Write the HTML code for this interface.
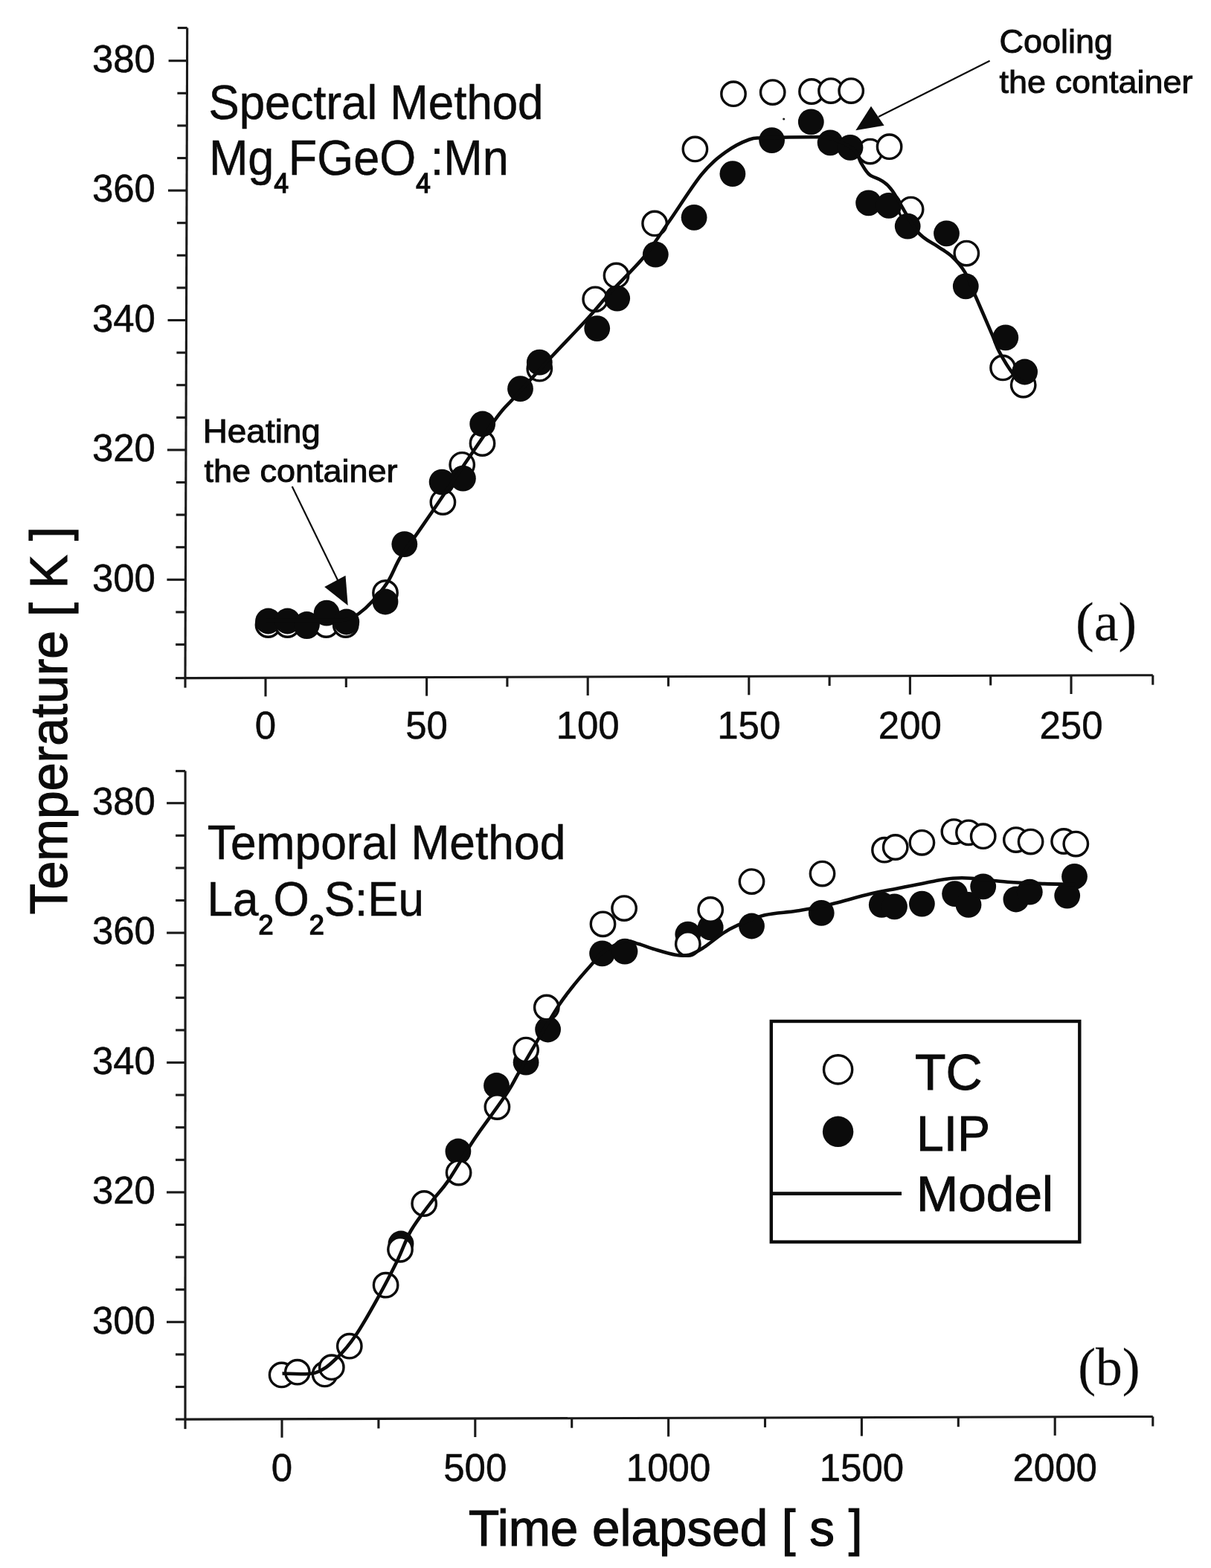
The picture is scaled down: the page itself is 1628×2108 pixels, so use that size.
<!DOCTYPE html>
<html><head><meta charset="utf-8"><title>Temperature vs time</title>
<style>html,body{margin:0;padding:0;background:#fff;}svg{display:block;}text{font-family:"Liberation Sans",Arial,Helvetica,sans-serif;fill:#0b0b0b;stroke:#0b0b0b;stroke-width:0.5px;}.tk{stroke-width:0.9px}.ann{stroke-width:1.0px}.ax{stroke-width:1.2px}.leg{stroke-width:0.9px}.sb{stroke-width:1.5px}.serif{font-family:"Liberation Serif","Times New Roman",serif;stroke-width:0.2px}</style></head><body>
<svg width="1628" height="2108" viewBox="0 0 1628 2108">
<rect width="1628" height="2108" fill="#fff"/>
<g stroke="#1a1a1a" stroke-width="3.1" stroke-linecap="butt" fill="none">
<line x1="251.7" y1="37.5" x2="249.0" y2="911.6"/>
<line x1="249.0" y1="911.6" x2="1549.8" y2="907.7"/>
<line x1="236.0" y1="911.6" x2="249.0" y2="911.6"/>
<line x1="236.1" y1="866.5" x2="249.1" y2="866.5"/>
<line x1="236.3" y1="822.9" x2="249.3" y2="822.9"/>
<line x1="224.4" y1="779.3" x2="249.4" y2="779.3"/>
<line x1="236.5" y1="735.7" x2="249.5" y2="735.7"/>
<line x1="236.7" y1="692.1" x2="249.7" y2="692.1"/>
<line x1="236.8" y1="648.5" x2="249.8" y2="648.5"/>
<line x1="224.9" y1="604.9" x2="249.9" y2="604.9"/>
<line x1="237.1" y1="561.3" x2="250.1" y2="561.3"/>
<line x1="237.2" y1="517.7" x2="250.2" y2="517.7"/>
<line x1="237.4" y1="474.1" x2="250.4" y2="474.1"/>
<line x1="225.5" y1="430.5" x2="250.5" y2="430.5"/>
<line x1="237.6" y1="386.9" x2="250.6" y2="386.9"/>
<line x1="237.8" y1="343.3" x2="250.8" y2="343.3"/>
<line x1="237.9" y1="299.7" x2="250.9" y2="299.7"/>
<line x1="226.0" y1="256.1" x2="251.0" y2="256.1"/>
<line x1="238.2" y1="212.5" x2="251.2" y2="212.5"/>
<line x1="238.3" y1="168.9" x2="251.3" y2="168.9"/>
<line x1="238.4" y1="125.3" x2="251.4" y2="125.3"/>
<line x1="226.6" y1="81.7" x2="251.6" y2="81.7"/>
<line x1="238.7" y1="37.5" x2="251.7" y2="37.5"/>
<line x1="249.0" y1="911.6" x2="249.0" y2="924.6"/>
<line x1="357.0" y1="911.3" x2="357.0" y2="936.3"/>
<line x1="465.3" y1="911.0" x2="465.3" y2="924.0"/>
<line x1="573.6" y1="910.6" x2="573.6" y2="935.6"/>
<line x1="681.9" y1="910.3" x2="681.9" y2="923.3"/>
<line x1="790.2" y1="910.0" x2="790.2" y2="935.0"/>
<line x1="898.5" y1="909.7" x2="898.5" y2="922.7"/>
<line x1="1006.8" y1="909.3" x2="1006.8" y2="934.3"/>
<line x1="1115.1" y1="909.0" x2="1115.1" y2="922.0"/>
<line x1="1223.4" y1="908.7" x2="1223.4" y2="933.7"/>
<line x1="1331.7" y1="908.4" x2="1331.7" y2="921.4"/>
<line x1="1440.0" y1="908.0" x2="1440.0" y2="933.0"/>
<line x1="1549.8" y1="907.7" x2="1549.8" y2="920.7"/>
<line x1="249.1" y1="1036.6" x2="249.0" y2="1908.1"/>
<line x1="249.0" y1="1908.1" x2="1549.8" y2="1904.5"/>
<line x1="236.0" y1="1908.1" x2="249.0" y2="1908.1"/>
<line x1="236.0" y1="1864.5" x2="249.0" y2="1864.5"/>
<line x1="236.0" y1="1820.9" x2="249.0" y2="1820.9"/>
<line x1="224.0" y1="1777.3" x2="249.0" y2="1777.3"/>
<line x1="236.0" y1="1733.7" x2="249.0" y2="1733.7"/>
<line x1="236.0" y1="1690.1" x2="249.0" y2="1690.1"/>
<line x1="236.0" y1="1646.5" x2="249.0" y2="1646.5"/>
<line x1="224.0" y1="1602.9" x2="249.0" y2="1602.9"/>
<line x1="236.0" y1="1559.3" x2="249.0" y2="1559.3"/>
<line x1="236.0" y1="1515.7" x2="249.0" y2="1515.7"/>
<line x1="236.1" y1="1472.1" x2="249.1" y2="1472.1"/>
<line x1="224.1" y1="1428.5" x2="249.1" y2="1428.5"/>
<line x1="236.1" y1="1384.9" x2="249.1" y2="1384.9"/>
<line x1="236.1" y1="1341.3" x2="249.1" y2="1341.3"/>
<line x1="236.1" y1="1297.7" x2="249.1" y2="1297.7"/>
<line x1="224.1" y1="1254.1" x2="249.1" y2="1254.1"/>
<line x1="236.1" y1="1210.5" x2="249.1" y2="1210.5"/>
<line x1="236.1" y1="1166.9" x2="249.1" y2="1166.9"/>
<line x1="236.1" y1="1123.3" x2="249.1" y2="1123.3"/>
<line x1="224.1" y1="1079.7" x2="249.1" y2="1079.7"/>
<line x1="236.1" y1="1036.6" x2="249.1" y2="1036.6"/>
<line x1="249.0" y1="1908.1" x2="249.0" y2="1921.1"/>
<line x1="379.0" y1="1907.7" x2="379.0" y2="1932.7"/>
<line x1="508.9" y1="1907.4" x2="508.9" y2="1920.4"/>
<line x1="638.8" y1="1907.0" x2="638.8" y2="1932.0"/>
<line x1="768.7" y1="1906.7" x2="768.7" y2="1919.7"/>
<line x1="898.6" y1="1906.3" x2="898.6" y2="1931.3"/>
<line x1="1028.5" y1="1905.9" x2="1028.5" y2="1918.9"/>
<line x1="1158.4" y1="1905.6" x2="1158.4" y2="1930.6"/>
<line x1="1288.3" y1="1905.2" x2="1288.3" y2="1918.2"/>
<line x1="1418.2" y1="1904.9" x2="1418.2" y2="1929.9"/>
<line x1="1549.8" y1="1904.5" x2="1549.8" y2="1917.5"/>
</g>
<g font-size="51" class="tk">
<text x="209" y="794.6" transform="matrix(1 0 0 1.02 0 -15.89)" text-anchor="end">300</text>
<text x="209" y="1792.6" transform="matrix(1 0 0 1.02 0 -35.85)" text-anchor="end">300</text>
<text x="209" y="620.2" transform="matrix(1 0 0 1.02 0 -12.40)" text-anchor="end">320</text>
<text x="209" y="1618.2" transform="matrix(1 0 0 1.02 0 -32.36)" text-anchor="end">320</text>
<text x="209" y="445.8" transform="matrix(1 0 0 1.02 0 -8.92)" text-anchor="end">340</text>
<text x="209" y="1443.8" transform="matrix(1 0 0 1.02 0 -28.88)" text-anchor="end">340</text>
<text x="209" y="271.4" transform="matrix(1 0 0 1.02 0 -5.43)" text-anchor="end">360</text>
<text x="209" y="1269.4" transform="matrix(1 0 0 1.02 0 -25.39)" text-anchor="end">360</text>
<text x="209" y="97.0" transform="matrix(1 0 0 1.02 0 -1.94)" text-anchor="end">380</text>
<text x="209" y="1095.0" transform="matrix(1 0 0 1.02 0 -21.90)" text-anchor="end">380</text>
<text x="357.0" y="993" transform="matrix(1 0 0 1.02 0 -19.86)" text-anchor="middle">0</text>
<text x="573.6" y="993" transform="matrix(1 0 0 1.02 0 -19.86)" text-anchor="middle">50</text>
<text x="790.2" y="993" transform="matrix(1 0 0 1.02 0 -19.86)" text-anchor="middle">100</text>
<text x="1006.8" y="993" transform="matrix(1 0 0 1.02 0 -19.86)" text-anchor="middle">150</text>
<text x="1223.4" y="993" transform="matrix(1 0 0 1.02 0 -19.86)" text-anchor="middle">200</text>
<text x="1440.0" y="993" transform="matrix(1 0 0 1.02 0 -19.86)" text-anchor="middle">250</text>
<text x="379.0" y="1991" transform="matrix(1 0 0 1.02 0 -39.82)" text-anchor="middle">0</text>
<text x="638.8" y="1991" transform="matrix(1 0 0 1.02 0 -39.82)" text-anchor="middle">500</text>
<text x="898.6" y="1991" transform="matrix(1 0 0 1.02 0 -39.82)" text-anchor="middle">1000</text>
<text x="1158.4" y="1991" transform="matrix(1 0 0 1.02 0 -39.82)" text-anchor="middle">1500</text>
<text x="1418.2" y="1991" transform="matrix(1 0 0 1.02 0 -39.82)" text-anchor="middle">2000</text>
</g>
<text class="ax" x="0" y="0" font-size="71" transform="translate(89.5,1229.5) rotate(-90)" textLength="521.5" lengthAdjust="spacingAndGlyphs">Temperature [ K ]</text>
<text class="ax" x="630" y="2078.3" transform="matrix(1 0 0 1.035 0 -72.74)" font-size="67" textLength="529.5" lengthAdjust="spacingAndGlyphs">Time elapsed [ s ]</text>
<text x="280.5" y="160" transform="matrix(1 0 0 1.05 0 -8.00)" font-size="62" textLength="450" lengthAdjust="spacingAndGlyphs">Spectral Method</text>
<text x="280.9" y="235" transform="matrix(1 0 0 1.06 0 -14.10)" font-size="63">Mg<tspan class="sb" font-size="35" dy="23">4</tspan><tspan dy="-23">FGeO</tspan><tspan class="sb" font-size="35" dy="23">4</tspan><tspan dy="-23">:Mn</tspan></text>
<text x="278.8" y="1155" transform="matrix(1 0 0 1.05 0 -57.75)" font-size="62" textLength="481.5" lengthAdjust="spacingAndGlyphs">Temporal Method</text>
<text x="278.5" y="1231" transform="matrix(1 0 0 1.05 0 -61.55)" font-size="62">La<tspan class="sb" font-size="36" dy="24">2</tspan><tspan dy="-24">O</tspan><tspan class="sb" font-size="36" dy="24">2</tspan><tspan dy="-24">S:Eu</tspan></text>
<text class="ann" x="272.7" y="595" font-size="45" textLength="158.2" lengthAdjust="spacingAndGlyphs">Heating</text>
<text class="ann" x="274.5" y="647.8" transform="matrix(1 0 0 0.965 0 22.67)" font-size="45">the container</text>
<text class="ann" x="1343.5" y="71.3" font-size="45">Cooling</text>
<text class="ann" x="1343.5" y="125.3" transform="matrix(1 0 0 0.965 0 4.39)" font-size="45">the container</text>
<text class="serif" x="1446" y="861" font-size="74">(a)</text>
<text class="serif" x="1449.2" y="1861.7" font-size="71.5">(b)</text>
<g stroke="#0b0b0b" stroke-width="2.2" fill="none">
<line x1="392.7" y1="654" x2="456" y2="784"/>
<line x1="1330.6" y1="81.7" x2="1181" y2="157"/>
</g>
<g fill="#0b0b0b">
<polygon points="464.5,773.8 436.2,789 467.7,814"/>
<polygon points="1171,142.8 1150.3,175.2 1188.6,168.8"/>
</g>
<g>
<circle cx="360.5" cy="840" r="16.2" fill="#fff" stroke="#0b0b0b" stroke-width="3.4"/>
<circle cx="386.5" cy="840" r="16.2" fill="#fff" stroke="#0b0b0b" stroke-width="3.4"/>
<circle cx="412.5" cy="841" r="16.2" fill="#fff" stroke="#0b0b0b" stroke-width="3.4"/>
<circle cx="438.6" cy="840" r="16.2" fill="#fff" stroke="#0b0b0b" stroke-width="3.4"/>
<circle cx="464.7" cy="840" r="16.2" fill="#fff" stroke="#0b0b0b" stroke-width="3.4"/>
<circle cx="518" cy="797" r="16.2" fill="#fff" stroke="#0b0b0b" stroke-width="3.4"/>
<circle cx="595.4" cy="675.1" r="16.2" fill="#fff" stroke="#0b0b0b" stroke-width="3.4"/>
<circle cx="621.2" cy="624.8" r="16.2" fill="#fff" stroke="#0b0b0b" stroke-width="3.4"/>
<circle cx="648.5" cy="596" r="16.2" fill="#fff" stroke="#0b0b0b" stroke-width="3.4"/>
<circle cx="725.3" cy="495.7" r="16.2" fill="#fff" stroke="#0b0b0b" stroke-width="3.4"/>
<circle cx="800.2" cy="402.3" r="16.2" fill="#fff" stroke="#0b0b0b" stroke-width="3.4"/>
<circle cx="828.5" cy="370.4" r="16.2" fill="#fff" stroke="#0b0b0b" stroke-width="3.4"/>
<circle cx="880.1" cy="300.4" r="16.2" fill="#fff" stroke="#0b0b0b" stroke-width="3.4"/>
<circle cx="934.4" cy="200.4" r="16.2" fill="#fff" stroke="#0b0b0b" stroke-width="3.4"/>
<circle cx="986" cy="126.2" r="16.2" fill="#fff" stroke="#0b0b0b" stroke-width="3.4"/>
<circle cx="1038.7" cy="124.1" r="16.2" fill="#fff" stroke="#0b0b0b" stroke-width="3.4"/>
<circle cx="1091" cy="123" r="16.2" fill="#fff" stroke="#0b0b0b" stroke-width="3.4"/>
<circle cx="1117" cy="122.1" r="16.2" fill="#fff" stroke="#0b0b0b" stroke-width="3.4"/>
<circle cx="1144.2" cy="122.1" r="16.2" fill="#fff" stroke="#0b0b0b" stroke-width="3.4"/>
<circle cx="1169.8" cy="203.6" r="16.2" fill="#fff" stroke="#0b0b0b" stroke-width="3.4"/>
<circle cx="1195.6" cy="197.2" r="16.2" fill="#fff" stroke="#0b0b0b" stroke-width="3.4"/>
<circle cx="1224.6" cy="281.6" r="16.2" fill="#fff" stroke="#0b0b0b" stroke-width="3.4"/>
<circle cx="1299.3" cy="340.6" r="16.2" fill="#fff" stroke="#0b0b0b" stroke-width="3.4"/>
<circle cx="1348.1" cy="494.4" r="16.2" fill="#fff" stroke="#0b0b0b" stroke-width="3.4"/>
<circle cx="1375.7" cy="517.5" r="16.2" fill="#fff" stroke="#0b0b0b" stroke-width="3.4"/>
</g><g fill="#0b0b0b">
<circle cx="360.6" cy="835" r="17.4"/>
<circle cx="386.5" cy="835" r="17.4"/>
<circle cx="412.5" cy="839.5" r="17.4"/>
<circle cx="439.1" cy="824.2" r="17.4"/>
<circle cx="465.8" cy="836" r="17.4"/>
<circle cx="518" cy="809" r="17.4"/>
<circle cx="543.8" cy="731.6" r="17.4"/>
<circle cx="594.1" cy="648.1" r="17.4"/>
<circle cx="622.4" cy="643.2" r="17.4"/>
<circle cx="648.7" cy="570" r="17.4"/>
<circle cx="699.5" cy="522.7" r="17.4"/>
<circle cx="725.3" cy="487.1" r="17.4"/>
<circle cx="802.7" cy="441.6" r="17.4"/>
<circle cx="829.7" cy="401.1" r="17.4"/>
<circle cx="881.3" cy="342.1" r="17.4"/>
<circle cx="933.1" cy="292.3" r="17.4"/>
<circle cx="984.9" cy="233.7" r="17.4"/>
<circle cx="1037.6" cy="188.6" r="17.4"/>
<circle cx="1090.3" cy="163.9" r="17.4"/>
<circle cx="1116.1" cy="191.8" r="17.4"/>
<circle cx="1143" cy="198.3" r="17.4"/>
<circle cx="1167.6" cy="272.8" r="17.4"/>
<circle cx="1194.8" cy="276.3" r="17.4"/>
<circle cx="1220.2" cy="304.1" r="17.4"/>
<circle cx="1272.5" cy="313.8" r="17.4"/>
<circle cx="1298.3" cy="384.8" r="17.4"/>
<circle cx="1351.8" cy="453.9" r="17.4"/>
<circle cx="1377.6" cy="500" r="17.4"/>
</g>
<path d="M357.0,834.0 C364.2,834.0 386.2,834.0 400.0,834.0 C413.8,834.0 429.0,834.2 440.0,834.0 C451.0,833.8 458.9,834.5 466.0,833.0 C473.1,831.5 476.5,829.2 482.3,825.0 C488.1,820.8 494.4,815.3 501.0,808.0 C507.6,800.7 515.6,791.1 521.8,781.4 C527.9,771.7 531.5,760.3 537.9,749.8 C544.3,739.3 552.8,728.7 560.0,718.4 C567.2,708.1 570.2,703.8 581.0,688.0 C591.8,672.2 610.1,644.9 624.8,623.5 C639.5,602.1 658.0,574.5 669.0,559.7 C680.0,545.0 678.6,548.5 690.9,535.0 C703.1,521.5 726.5,495.7 742.5,478.5 C758.5,461.3 773.6,446.1 786.7,431.8 C799.8,417.5 808.0,406.8 821.1,392.5 C834.2,378.2 852.2,361.7 865.4,345.8 C878.5,329.9 887.1,315.5 900.0,297.0 C912.9,278.5 930.5,250.2 943.0,234.8 C955.5,219.4 964.5,212.6 975.3,204.7 C986.0,196.8 998.5,190.7 1007.5,187.5 C1016.5,184.3 1014.7,185.9 1029.0,185.4 C1043.3,184.9 1079.2,184.3 1093.5,184.3 C1107.8,184.3 1106.1,182.7 1115.0,185.4 C1123.9,188.1 1139.8,194.7 1147.0,200.4 C1154.2,206.1 1154.4,214.1 1158.0,219.8 C1161.6,225.5 1164.1,230.9 1168.8,234.8 C1173.5,238.7 1180.6,239.5 1186.0,243.4 C1191.4,247.3 1193.2,247.2 1201.0,258.5 C1208.8,269.8 1223.1,298.9 1233.0,311.0 C1242.9,323.1 1252.9,325.8 1260.6,331.3 C1268.3,336.8 1272.9,338.4 1279.0,344.2 C1285.1,350.0 1291.9,357.2 1297.4,366.4 C1302.9,375.6 1305.8,385.4 1312.0,399.5 C1318.2,413.6 1329.0,438.8 1334.3,451.1 C1339.5,463.4 1338.9,464.6 1343.5,473.2 C1348.1,481.8 1356.6,495.9 1362.0,502.7 C1367.4,509.5 1373.7,512.1 1376.0,514.0" fill="none" stroke="#0b0b0b" stroke-width="4.6" stroke-linejoin="round"/>
<g fill="#0b0b0b">
<circle cx="539" cy="1672" r="17.4"/>
<circle cx="615.9" cy="1548" r="17.4"/>
<circle cx="667.5" cy="1459.5" r="17.4"/>
<circle cx="707.1" cy="1428.2" r="17.4"/>
<circle cx="736.6" cy="1384" r="17.4"/>
<circle cx="809.6" cy="1281.9" r="17.4"/>
<circle cx="840" cy="1279.1" r="17.4"/>
<circle cx="924.8" cy="1256.1" r="17.4"/>
<circle cx="955.2" cy="1246.9" r="17.4"/>
<circle cx="1010.5" cy="1245" r="17.4"/>
<circle cx="1104.2" cy="1227.4" r="17.4"/>
<circle cx="1185.3" cy="1216.4" r="17.4"/>
<circle cx="1202.5" cy="1218.8" r="17.4"/>
<circle cx="1239.4" cy="1215.1" r="17.4"/>
<circle cx="1283.6" cy="1201.6" r="17.4"/>
<circle cx="1302" cy="1216.4" r="17.4"/>
<circle cx="1321.7" cy="1191.8" r="17.4"/>
<circle cx="1365.9" cy="1209" r="17.4"/>
<circle cx="1384.3" cy="1199.2" r="17.4"/>
<circle cx="1434.7" cy="1204.1" r="17.4"/>
<circle cx="1444.5" cy="1178.3" r="17.4"/>
</g><g>
<circle cx="378.6" cy="1848.4" r="16.2" fill="#fff" stroke="#0b0b0b" stroke-width="3.4"/>
<circle cx="399.8" cy="1844.7" r="16.2" fill="#fff" stroke="#0b0b0b" stroke-width="3.4"/>
<circle cx="436.6" cy="1847.4" r="16.2" fill="#fff" stroke="#0b0b0b" stroke-width="3.4"/>
<circle cx="445.8" cy="1838.2" r="16.2" fill="#fff" stroke="#0b0b0b" stroke-width="3.4"/>
<circle cx="469.8" cy="1809.7" r="16.2" fill="#fff" stroke="#0b0b0b" stroke-width="3.4"/>
<circle cx="518.6" cy="1727.7" r="16.2" fill="#fff" stroke="#0b0b0b" stroke-width="3.4"/>
<circle cx="538" cy="1679.8" r="16.2" fill="#fff" stroke="#0b0b0b" stroke-width="3.4"/>
<circle cx="570.2" cy="1618" r="16.2" fill="#fff" stroke="#0b0b0b" stroke-width="3.4"/>
<circle cx="616.6" cy="1576.6" r="16.2" fill="#fff" stroke="#0b0b0b" stroke-width="3.4"/>
<circle cx="668.4" cy="1488.1" r="16.2" fill="#fff" stroke="#0b0b0b" stroke-width="3.4"/>
<circle cx="707.1" cy="1411.6" r="16.2" fill="#fff" stroke="#0b0b0b" stroke-width="3.4"/>
<circle cx="734.8" cy="1354.5" r="16.2" fill="#fff" stroke="#0b0b0b" stroke-width="3.4"/>
<circle cx="810.5" cy="1242.3" r="16.2" fill="#fff" stroke="#0b0b0b" stroke-width="3.4"/>
<circle cx="839.1" cy="1221.1" r="16.2" fill="#fff" stroke="#0b0b0b" stroke-width="3.4"/>
<circle cx="924.8" cy="1269" r="16.2" fill="#fff" stroke="#0b0b0b" stroke-width="3.4"/>
<circle cx="955.2" cy="1222.9" r="16.2" fill="#fff" stroke="#0b0b0b" stroke-width="3.4"/>
<circle cx="1010.5" cy="1185.1" r="16.2" fill="#fff" stroke="#0b0b0b" stroke-width="3.4"/>
<circle cx="1105.5" cy="1174.6" r="16.2" fill="#fff" stroke="#0b0b0b" stroke-width="3.4"/>
<circle cx="1189" cy="1142.7" r="16.2" fill="#fff" stroke="#0b0b0b" stroke-width="3.4"/>
<circle cx="1203.7" cy="1139" r="16.2" fill="#fff" stroke="#0b0b0b" stroke-width="3.4"/>
<circle cx="1239.4" cy="1132.8" r="16.2" fill="#fff" stroke="#0b0b0b" stroke-width="3.4"/>
<circle cx="1282.4" cy="1118.1" r="16.2" fill="#fff" stroke="#0b0b0b" stroke-width="3.4"/>
<circle cx="1302" cy="1119.3" r="16.2" fill="#fff" stroke="#0b0b0b" stroke-width="3.4"/>
<circle cx="1321.7" cy="1124.2" r="16.2" fill="#fff" stroke="#0b0b0b" stroke-width="3.4"/>
<circle cx="1365.9" cy="1129.1" r="16.2" fill="#fff" stroke="#0b0b0b" stroke-width="3.4"/>
<circle cx="1385.6" cy="1131.6" r="16.2" fill="#fff" stroke="#0b0b0b" stroke-width="3.4"/>
<circle cx="1430.1" cy="1131" r="16.2" fill="#fff" stroke="#0b0b0b" stroke-width="3.4"/>
<circle cx="1446.3" cy="1134.6" r="16.2" fill="#fff" stroke="#0b0b0b" stroke-width="3.4"/>
</g>
<path d="M379.5,1846.5 C386.9,1846.3 411.4,1849.1 423.7,1845.6 C436.0,1842.1 444.0,1833.9 453.2,1825.3 C462.4,1816.7 469.5,1808.1 479.0,1794.0 C488.5,1779.9 501.1,1757.2 510.3,1740.6 C519.5,1724.0 527.2,1708.9 534.3,1694.5 C541.4,1680.1 545.0,1667.2 552.7,1654.0 C560.4,1640.8 572.0,1626.4 580.3,1615.3 C588.6,1604.2 593.2,1601.0 602.4,1587.6 C611.6,1574.2 626.1,1549.0 635.3,1535.0 C644.5,1521.0 649.4,1515.0 657.4,1503.7 C665.4,1492.4 676.5,1477.3 683.2,1466.9 C690.0,1456.5 691.1,1452.8 697.9,1441.1 C704.6,1429.4 714.8,1411.9 723.7,1396.9 C732.7,1381.9 743.3,1363.5 751.6,1351.0 C759.9,1338.5 766.0,1331.2 773.7,1321.6 C781.4,1312.0 791.9,1300.5 798.0,1293.6 C804.1,1286.7 803.5,1284.7 810.5,1280.0 C817.5,1275.3 832.0,1267.1 840.0,1265.3 C848.0,1263.5 851.6,1267.2 858.4,1269.0 C865.2,1270.8 872.3,1274.0 880.6,1276.4 C888.9,1278.9 900.5,1282.5 908.2,1283.7 C915.9,1284.9 920.5,1285.2 926.6,1283.7 C932.7,1282.2 937.3,1279.4 945.0,1274.5 C952.7,1269.6 965.0,1259.3 972.7,1254.2 C980.4,1249.1 981.9,1248.1 991.1,1244.1 C1000.3,1240.1 1014.9,1233.5 1028.0,1230.3 C1041.2,1227.1 1056.5,1226.9 1070.0,1224.8 C1083.5,1222.7 1092.2,1221.5 1109.0,1217.6 C1125.8,1213.7 1154.2,1205.5 1170.6,1201.6 C1187.0,1197.7 1193.1,1197.2 1207.4,1194.3 C1221.7,1191.4 1244.3,1186.7 1256.6,1184.4 C1268.9,1182.1 1272.9,1181.3 1281.1,1180.7 C1289.3,1180.1 1293.4,1179.9 1305.7,1180.7 C1318.0,1181.5 1338.4,1184.5 1354.8,1185.7 C1371.2,1186.9 1389.0,1187.5 1404.0,1188.1 C1419.0,1188.6 1438.2,1188.8 1445.0,1189.0" fill="none" stroke="#0b0b0b" stroke-width="4.6" stroke-linejoin="round"/>
<circle cx="1053.7" cy="160" r="1.6" fill="#222"/>
<rect x="1036.8" y="1373" width="414.5" height="296.6" fill="#fff" stroke="#0b0b0b" stroke-width="4.4"/>
<circle cx="1126.6" cy="1437.9" r="19.1" fill="none" stroke="#0b0b0b" stroke-width="3.4"/>
<circle cx="1126.6" cy="1521.3" r="20.7" fill="#0b0b0b"/>
<line x1="1038" y1="1604.6" x2="1212" y2="1604.6" stroke="#0b0b0b" stroke-width="4.6"/>
<text x="1230" y="1465" font-size="68" class="leg">TC</text>
<text x="1232" y="1546.6" font-size="66" class="leg">LIP</text>
<text x="1232" y="1628" font-size="66" class="leg" textLength="184" lengthAdjust="spacingAndGlyphs">Model</text>
</svg></body></html>
